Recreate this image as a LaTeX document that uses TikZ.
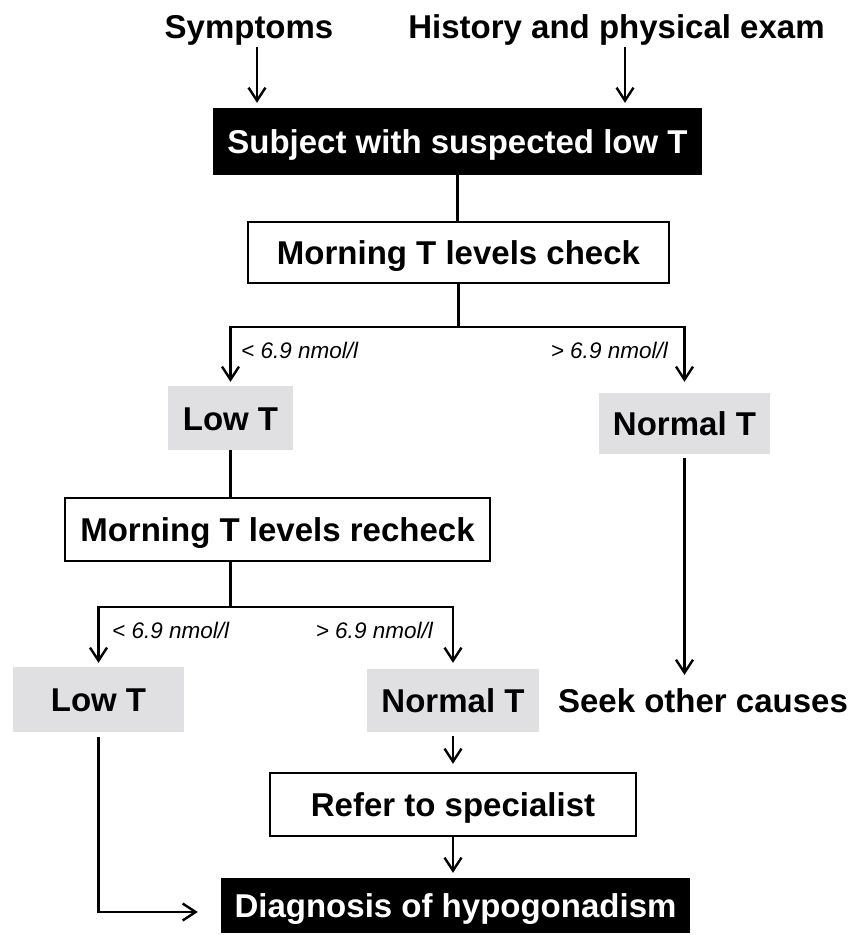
\documentclass[tikz,border=0pt]{standalone}
\usepackage{fontspec}
\setmainfont{Liberation Sans}
\usetikzlibrary{arrows.meta,positioning,calc}
\definecolor{resgray}{RGB}{224,224,226}

\begin{document}
\begin{tikzpicture}[
  x=1pt, y=-1pt,
  >={Straight Barb[length=13pt,width=17pt]},
  every node/.style={font=\fontsize{33}{36}\selectfont\bfseries, inner sep=0pt},
  darkbox/.style={rectangle, fill=black, text=white, text height=24pt, text depth=0pt},
  stepbox/.style={rectangle, draw, line width=2.4pt, fill=white, text height=24pt, text depth=0pt},
  result/.style={rectangle, fill=resgray, text height=24pt, text depth=0pt},
  cond/.style={font=\fontsize{22.5}{25}\selectfont\itshape},
  link/.style={line width=2.4pt},
  arr/.style={->, line width=2.4pt}
]
\useasboundingbox (0,0) rectangle (855,935);

% --- nodes (absolute placement for fidelity) ---
\node[anchor=base] (symp) at (249,38) {Symptoms};
\node[anchor=base] (hist) at (616.5,38) {History and physical exam};
\node[darkbox, minimum width=489pt, minimum height=67pt] (subj) at (457.5,141.5) {Subject with suspected low T};
\node[stepbox, minimum width=421pt, minimum height=61pt] (chk) at (458.5,252.5) {Morning T levels check};
\node[result, minimum width=125pt, minimum height=64pt] (low1) at (230.5,418) {Low T};
\node[result, minimum width=171pt, minimum height=61pt] (norm1) at (684.5,423.5) {Normal T};
\node[stepbox, minimum width=425pt, minimum height=63pt] (rechk) at (277.5,529.5) {Morning T levels recheck};
\node[result, minimum width=171pt, minimum height=65pt] (low2) at (98.5,699.5) {Low T};
\node[result, minimum width=172pt, minimum height=63pt] (norm2) at (453,700.5) {Normal T};
\node[stepbox, minimum width=366pt, minimum height=63pt] (refer) at (453,804.5) {Refer to specialist};
\node[darkbox, minimum width=469pt, minimum height=55pt] (diag) at (455.5,905.5) {Diagnosis of hypogonadism};
\node[anchor=base] (seek) at (703,712) {Seek other causes};

% threshold labels
\node[cond, anchor=base west] (lt1) at (241,358) {< 6.9 nmol/l};
\node[cond, anchor=base east] (gt1) at (668,358) {> 6.9 nmol/l};
\node[cond, anchor=base west] (lt2) at (112,638) {< 6.9 nmol/l};
\node[cond, anchor=base east] (gt2) at (433,638) {> 6.9 nmol/l};

\coordinate (fork1) at (458.5,327);
\coordinate (fork2) at (230.5,607);

% --- edges ---
% inputs to the suspected case
\draw[arr, shorten <=2pt, shorten >=5pt] ([xshift=8pt]symp.south) -- ([xshift=8pt]symp.south |- subj.north);
\draw[arr, shorten <=2pt, shorten >=5pt] ([xshift=8.5pt]hist.south) -- ([xshift=8.5pt]hist.south |- subj.north);

% first check and its split
\draw[link] (subj.south) -- (subj.south |- chk.north);
\draw[link] (chk.south) -- (fork1);
\draw[arr, shorten >=4pt] (fork1) -| (low1.north);
\draw[arr, shorten >=11pt] (fork1) -| (norm1.north);
\draw[arr, shorten <=4pt, shorten >=13pt] (norm1.south) -- (norm1.south |- seek.north);

% recheck and its split
\draw[link] (low1.south) -- (low1.south |- rechk.north);
\draw[link] (rechk.south -| fork2) -- (fork2);
\draw[arr, shorten >=4pt] (fork2) -| (low2.north);
\draw[arr, shorten >=6pt] (fork2) -| (norm2.north);

% towards the diagnosis
\draw[arr, shorten <=4pt, shorten >=8pt] (norm2.south) -- (refer.north);
\draw[arr, shorten >=5pt] (refer.south) -- (refer.south |- diag.north);
\draw[arr, shorten <=5pt, shorten >=23pt] (low2.south) |- ([yshift=-6.5pt]diag.west);

\end{tikzpicture}
\end{document}
